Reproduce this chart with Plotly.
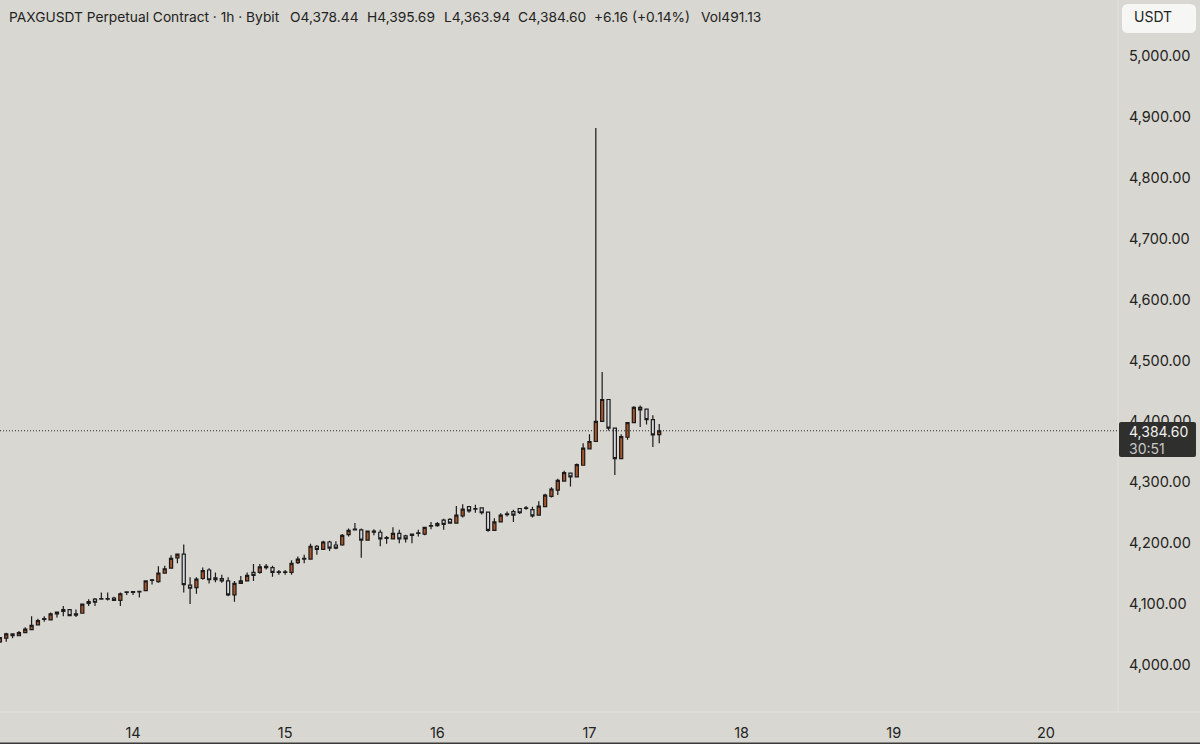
import pandas as pd
import plotly.graph_objects as go

first_bar = "2025-10-13 03:00"
opens = [4038,4044,4051,4048,4053,4058,4066,4076,4074,4084,4091,4091,4084,4085,4101,4108,4109,4109,4110,4106,4120,
         4120.5,4121,4122,4140,4137,4151,4159,4176,4182,4131,4127,4142,4156,4143,4142,4138,4115,4134,4138,
         4152,4152,4162,4160,4153,4153,4152,4168,4175,4174,4195,4190,4202,4197,4197,4214,4223,4222,4205,4220,
         4218,4209,4207,4216,4212,4215,4217,4215,4229,4229,4238,4239,4233,4245,4260,4257,4258,4251,4221,4235,
         4248,4252,4257,4258,4255,4246,4260,4277,4287,4302,4315,4309,4328,4355,4367,4400,4436,4389,4339,4374,
         4398,4423,4420,4403,4378.44]
highs = [4046,4053,4052,4056,4062,4080,4076,4080,4086,4088,4097,4092,4091,4101,4108,4110,4119,4119,4112,4119,4120,
         4121,4122,4139,4141,4162,4163,4180,4183,4198,4144,4144,4160,4159,4152,4148,4144,4138,4146,4152,
         4166,4166,4166,4163,4156,4156,4172,4178,4181,4199,4197,4204,4204,4203,4215,4224,4233,4224,4221,4223,
         4222,4212,4226,4222,4214,4215,4222,4227,4235,4235,4240,4241,4261,4264,4261,4263,4259,4252,4241,4249,
         4252,4255,4258,4261,4260,4269,4281,4292,4306,4319,4316,4331,4364,4379,4882,4481,4436,4390,4379,4399,
         4425,4426,4421,4410,4395.69]
lows = [4036,4038,4044,4047,4052,4058,4065,4071,4073,4078,4080,4080,4079,4084,4097,4097,4108,4106,4105,4097,4115,
        4115,4111,4121,4132,4135,4150,4158,4167,4119,4100,4117,4140,4134,4136,4135,4113,4104,4133,4137,
        4138,4150,4157,4145,4148,4148,4148,4166,4167,4174,4181,4189,4187,4190,4196,4211,4221,4176,4204,4213,
        4195,4199,4206,4200,4201,4200,4211,4213,4223,4227,4222,4233,4232,4242,4250,4250,4247,4219,4220,4234,
        4244,4235,4248,4255,4242,4245,4259,4275,4279,4301,4293,4308,4327,4354,4366,4399,4385,4312,4338,4370,
        4397,4391,4395,4358,4363.94]
closes = [4045,4051,4048,4053,4059,4065,4073,4075,4084,4087,4088,4081,4082,4100,4104,4103,4108,4108,4106,4117,4119,
          4119,4120,4138,4139,4151,4158,4175,4182,4132,4126,4141,4155,4140,4140,4138,4115,4134,4138,4147,
          4147,4161,4160,4152,4152,4152,4167,4174,4174,4195,4190,4202,4192,4192,4213,4221,4222,4205,4220,4218,
          4207,4208,4216,4207,4207,4213,4216,4226,4228,4232,4231,4233,4246,4256,4253,4256,4250,4221,4235,4246,
          4247,4246,4250,4257,4245,4261,4279,4289,4303,4316,4309,4329,4356,4367,4400,4436,4389,4339,4375,4398,
          4423,4419,4403,4378,4384.60]
day_ticks = ["2025-10-14", "2025-10-15", "2025-10-16", "2025-10-17", "2025-10-18", "2025-10-19", "2025-10-20"]
day_labels = ["14", "15", "16", "17", "18", "19", "20"]
price_ticks = [4000, 4100, 4200, 4300, 4400, 4500, 4600, 4700, 4800, 4900, 5000]
last_price = 4384.60
header = "PAXGUSDT Perpetual Contract · 1h · Bybit"
ohlc_parts = ["O4,378.44", "H4,395.69", "L4,363.94", "C4,384.60", "+6.16 (+0.14%)", "Vol491.13"]
ohlc_x = [289, 366, 443, 517, 593, 700]

BG = "#d8d7d2"
INK = "#232321"
FONT = "Inter, Roboto, sans-serif"
W, H = 1200, 744
times = pd.date_range(first_bar, periods=len(closes), freq="h")

fig = go.Figure(go.Candlestick(
    x=times, open=opens, high=highs, low=lows, close=closes,
    increasing=dict(line=dict(color="#1d1a18", width=1.2), fillcolor="#a9562c"),
    decreasing=dict(line=dict(color="#1d1c1d", width=1.2), fillcolor="#d5d8dd"),
    whiskerwidth=0, showlegend=False, hoverinfo="skip",
))

def px(x): return x / W
def py(y): return 1 - y / H

def rounded(x0, y0, x1, y1, r):
    a, b, c, d = px(x0), py(y0), px(x1), py(y1)
    rx, ry = r / W, r / H
    return (f"M{a+rx},{b} L{c-rx},{b} Q{c},{b} {c},{b-ry} L{c},{d+ry} Q{c},{d} {c-rx},{d} "
            f"L{a+rx},{d} Q{a},{d} {a},{d+ry} L{a},{b-ry} Q{a},{b} {a+rx},{b} Z")

shapes = [
    dict(type="line", xref="paper", yref="y", x0=0, x1=px(1118), y0=last_price, y1=last_price,
         line=dict(color="#2a2a28", width=1, dash="1px,2px"), layer="above"),
    dict(type="line", xref="paper", yref="paper", x0=px(1118), x1=px(1118), y0=py(0), y1=py(712),
         line=dict(color="#e3e2dd", width=1)),
    dict(type="line", xref="paper", yref="paper", x0=0, x1=1, y0=py(712), y1=py(712),
         line=dict(color="#e3e2dd", width=1)),
    dict(type="rect", xref="paper", yref="paper", x0=0, x1=1, y0=py(744), y1=py(742.5),
         line=dict(width=0), fillcolor="#3a3a38"),
    dict(type="path", xref="paper", yref="paper", path=rounded(1122, 4, 1196, 33, 6),
         fillcolor="#f6f6f4", line=dict(width=0), layer="above"),
    dict(type="path", xref="paper", yref="paper", path=rounded(1119, 422, 1196, 457, 2),
         fillcolor="#2f2f2d", line=dict(width=0), layer="above"),
]

def label(text, x, y, color=INK, size=14, anchor="left"):
    return dict(text=text, x=px(x), y=py(y), xref="paper", yref="paper", showarrow=False,
                xanchor=anchor, yanchor="middle", xshift=-1, font=dict(family=FONT, size=size, color=color))

annotations = [label(header, 8, 17, size=13.75)]
annotations += [label(t, x, 17, size=13.75) for t, x in zip(ohlc_parts, ohlc_x)]
annotations += [
    label("USDT", 1133, 17, size=14),
    label(f"{last_price:,.2f}", 1128, 431, color="#f1f1ee", size=14),
    label("30:51", 1128, 448, color="#c9c9c5", size=14),
]

fig.update_layout(
    width=W, height=H, margin=dict(l=0, r=0, t=0, b=0), autosize=False,
    paper_bgcolor=BG, plot_bgcolor=BG, shapes=shapes, annotations=annotations,
    font=dict(family=FONT, color=INK),
    xaxis=dict(domain=[0, px(1118)], range=["2025-10-13 03:01", "2025-10-20 11:22"],
               rangeslider=dict(visible=False), showgrid=False, zeroline=False, showline=False,
               tickmode="array", tickvals=day_ticks, ticktext=day_labels,
               ticks="outside", ticklen=8, tickcolor="rgba(0,0,0,0)", tickfont=dict(size=14.5)),
    yaxis=dict(domain=[py(712), 1], range=[3922.8, 5092], side="right", anchor="x",
               showgrid=False, zeroline=False, showline=False,
               tickmode="array", tickvals=price_ticks, tickformat=",.2f",
               ticks="outside", ticklen=7, tickcolor="rgba(0,0,0,0)", tickfont=dict(size=14.5)),
)
fig.write_html("out.html", config=dict(displayModeBar=False), post_script="document.body.style.margin='0';")
